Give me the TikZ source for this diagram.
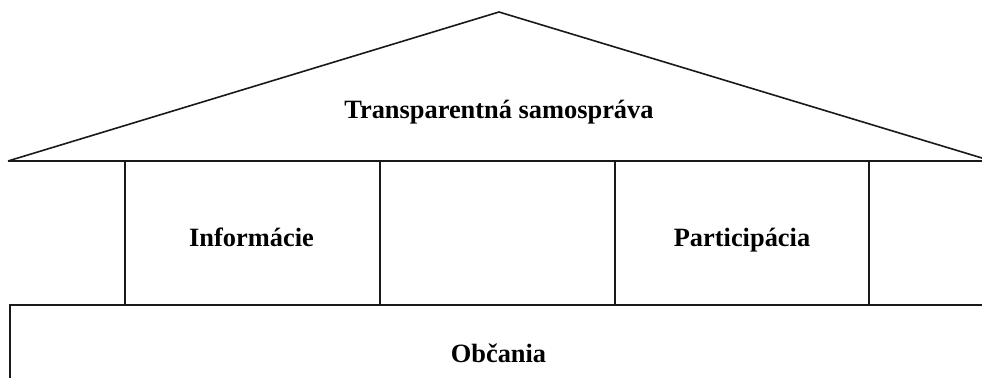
\documentclass[tikz,border=0pt]{standalone}
\usepackage{fontspec}
\setmainfont{Liberation Serif}
\begin{document}
\begin{tikzpicture}[x=1pt,y=-1pt,
  edge/.style={draw=black!90,line width=1.6pt},
  lbl/.style={font=\fontsize{26.4}{30}\selectfont\bfseries,anchor=base,inner sep=0pt}]
\useasboundingbox (0,0) rectangle (982,378);
% roof
\coordinate (roofL) at (8,161);
\coordinate (apex) at (499,12);
\coordinate (roofR) at (982,158);
\coordinate (eaveR) at (982,161);
\draw[edge] (roofL) -- (apex) -- (roofR);
\draw[edge] (roofL) -- (eaveR);
% pillars
\foreach \n/\x in {p1/125,p2/380,p3/615,p4/869}{
  \coordinate (\n top) at (\x,161);
  \coordinate (\n bot) at (\x,305);
  \draw[edge] (\n top) -- (\n bot);
}
% foundation
\coordinate (baseL) at (10,305);
\coordinate (baseR) at (982,305);
\coordinate (baseLB) at (10,378);
\draw[edge] (baseLB) -- (baseL) -- (baseR);
% labels
\node[lbl] (roof) at (499,118) {Transparentná samospráva};
\node[lbl] (info) at (251.5,246) {Informácie};
\node[lbl] (part) at (742,246) {Participácia};
\node[lbl] (obc) at (498.5,362) {Občania};
\end{tikzpicture}
\end{document}
